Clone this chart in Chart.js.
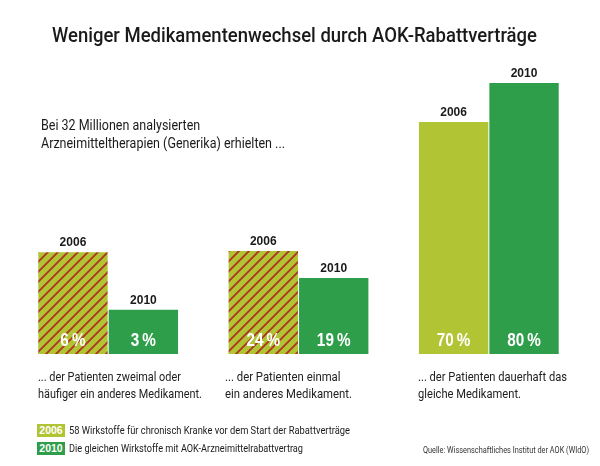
<!DOCTYPE html>
<html lang="de">
<head>
<meta charset="utf-8">
<script src="https://cdn.jsdelivr.net/npm/chart.js@4.4.1/dist/chart.umd.min.js"></script>
<style>
  html, body { margin:0; padding:0; background:#fff; }
  #wrap { position:relative; width:600px; height:466px; overflow:hidden;
          font-family:"Roboto","Liberation Sans","DejaVu Sans",sans-serif; color:#1a1a1a; }
  #c { position:absolute; left:0; top:0; }
  .t { position:absolute; white-space:nowrap; transform-origin:0 0; }
  #title { left:52px; top:23px; font-size:20px; line-height:24px; font-weight:500; }
  #sub { left:41px; top:116px; font-size:14px; line-height:18px; }
  .cap { top:368px; font-size:13px; line-height:17px; color:#222; }
  .box { position:absolute; left:37px; width:28px; height:13px; color:#fff; font-weight:bold; text-align:center;
         font-family:"Liberation Sans","DejaVu Sans",sans-serif; font-size:10.5px; line-height:13px; }
  .legt { left:69px; font-size:11px; line-height:13px; }
  #src { left:423px; top:444px; font-size:9px; line-height:12px; color:#333; }
</style>
</head>
<body>
<div id="wrap">
  <canvas id="c" width="600" height="466"></canvas>
  <div id="title" class="t" data-w="485">Weniger Medikamentenwechsel durch AOK-Rabattverträge</div>
  <div id="sub" class="t" data-w="244">Bei 32 Millionen analysierten<br>Arzneimitteltherapien (Generika) erhielten ...</div>
  <div id="caps"></div>
  <div id="legend"></div>
  <div id="src" class="t" data-w="166">Quelle: Wissenschaftliches Institut der AOK (WIdO)</div>
</div>
<script>
// ---- data ----
const groups = ['zweimal oder häufiger', 'einmal', 'dauerhaft gleich'];
const years = ['2006', '2010'];
const values2006 = [6, 24, 70];
const values2010 = [3, 19, 80];
const captions = [
  ['... der Patienten zweimal oder', 'häufiger ein anderes Medikament.'],
  ['... der Patienten einmal', 'ein anderes Medikament.'],
  ['... der Patienten dauerhaft das', 'gleiche Medikament.']
];
const legendTexts = [
  '58 Wirkstoffe für chronisch Kranke vor dem Start der Rabattverträge',
  'Die gleichen Wirkstoffe mit AOK-Arzneimittelrabattvertrag'
];

// ---- styles ----
const LIME = '#b1c434';
const GREEN = '#2f9e4a';
const STRIPE = '#ad3522';

function hatch() {
  const s = 10;
  const pc = document.createElement('canvas');
  pc.width = s; pc.height = s;
  const g = pc.getContext('2d');
  g.fillStyle = LIME; g.fillRect(0, 0, s, s);
  g.strokeStyle = STRIPE; g.lineWidth = 1.9;
  g.beginPath();
  g.moveTo(-2, s + 2); g.lineTo(s + 2, -2);      // main diagonal
  g.moveTo(-3, 3); g.lineTo(3, -3);              // corner (0,0)
  g.moveTo(s - 3, s + 3); g.lineTo(s + 3, s - 3); // corner (s,s)
  g.stroke();
  return g.createPattern(pc, 'repeat');
}
const pattern = hatch();

// per-group value scales (each group drawn on its own axis)
const axisRange = [
  { min: 0.7, max: 14.8 },
  { min: 4.9, max: 55.2 },
  { min: 10.5, max: 80 }
];

const datasets = [];
groups.forEach((g, i) => {
  [values2006, values2010].forEach((vals, k) => {
    const data = groups.map((_, j) => (j === i ? vals[i] : null));
    const bg = k === 1 ? GREEN : (i < 2 ? pattern : LIME);
    datasets.push({
      label: years[k], year: years[k], data, yAxisID: 'y' + i,
      base: axisRange[i].min,
      backgroundColor: bg, borderWidth: 0, skipNull: true,
      categoryPercentage: 0.74, barPercentage: 0.985
    });
  });
});

const scales = { x: { type: 'category', display: false, grid: { display: false } } };
axisRange.forEach((r, i) => {
  scales['y' + i] = { type: 'linear', display: false, min: r.min, max: r.max, grid: { display: false } };
});

const labelPlugin = {
  id: 'barLabels',
  afterDatasetsDraw(chart) {
    const ctx = chart.ctx;
    const bottom = chart.chartArea.bottom;
    ctx.save();
    ctx.textAlign = 'center';
    ctx.textBaseline = 'alphabetic';
    chart.data.datasets.forEach((ds, di) => {
      const meta = chart.getDatasetMeta(di);
      meta.data.forEach((el, idx) => {
        const v = ds.data[idx];
        if (v === null || v === undefined) return;
        const p = el.getProps(['x', 'y'], true);
        ctx.fillStyle = '#1a1a1a';
        ctx.font = 'bold 12px "Liberation Sans","DejaVu Sans",sans-serif';
        ctx.fillText(ds.year, p.x, p.y - 6);
        ctx.fillStyle = '#ffffff';
        ctx.font = 'bold 18px "Liberation Sans","DejaVu Sans",sans-serif';
        const txt = v + '\u2009%';
        ctx.save();
        ctx.translate(p.x, bottom - 8);
        ctx.scale(0.85, 1);
        ctx.fillText(txt, 0, 0);
        ctx.restore();
      });
    });
    ctx.restore();
  }
};

new Chart(document.getElementById('c'), {
  type: 'bar',
  data: { labels: groups, datasets },
  options: {
    responsive: false, animation: false,
    layout: { padding: { left: 13, right: 16, top: 83, bottom: 112 } },
    plugins: { legend: { display: false }, tooltip: { enabled: false } },
    scales
  },
  plugins: [labelPlugin]
});

// captions and legend as text
const capLeft = [38, 225, 418];
const capW = [164, 127, 149];
const capsEl = document.getElementById('caps');
captions.forEach((c, i) => {
  const d = document.createElement('div');
  d.className = 't cap';
  d.style.left = capLeft[i] + 'px';
  d.dataset.w = capW[i];
  d.innerHTML = c.join('<br>');
  capsEl.appendChild(d);
});
const legEl = document.getElementById('legend');
const legW = [281, 234];
years.forEach((y, i) => {
  const top = 424 + i * 18;
  const b = document.createElement('div');
  b.className = 'box';
  b.style.top = top + 'px';
  b.style.background = i === 0 ? LIME : GREEN;
  b.textContent = y;
  legEl.appendChild(b);
  const d = document.createElement('div');
  d.className = 't legt';
  d.style.top = top + 'px';
  d.dataset.w = legW[i];
  d.textContent = legendTexts[i];
  legEl.appendChild(d);
});

// condense text blocks horizontally to the reference widths
document.querySelectorAll('[data-w]').forEach(el => {
  const w = el.getBoundingClientRect().width;
  const target = parseFloat(el.dataset.w);
  if (w > 0) el.style.transform = 'scaleX(' + (target / w) + ')';
});
</script>
</body>
</html>
